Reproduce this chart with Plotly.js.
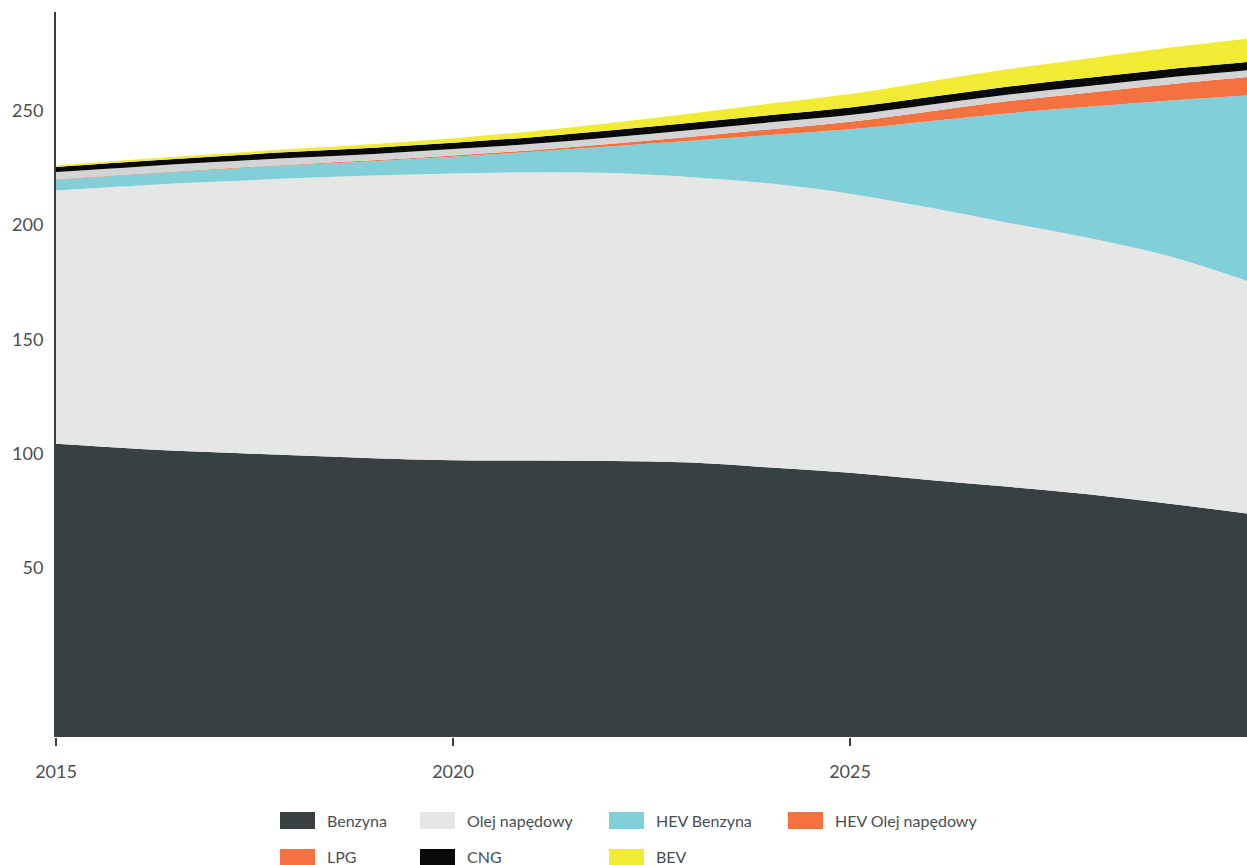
<!DOCTYPE html>
<html>
<head>
<meta charset="utf-8">
<script src="https://cdn.plot.ly/plotly-3.0.1.min.js"></script>
<style>
  html, body { margin: 0; padding: 0; background: #ffffff; }
  #chart { width: 1247px; height: 865px; }
</style>
</head>
<body>
<div id="chart"></div>
<script>
// ---- Data ----
const YEARS = [2015, 2016, 2017, 2018, 2019, 2020, 2021, 2022, 2023, 2024, 2025, 2026, 2027, 2028, 2029, 2030];
const BENZYNA      = [104.3, 102.2, 100.6, 99.3, 98.0, 97.1, 97.0, 96.8, 96.1, 93.9, 91.6, 88.5, 85.5, 82.2, 78.2, 73.8];
const OLEJ         = [110.9, 115.1, 118.4, 121.2, 123.7, 125.5, 126.1, 126.0, 124.9, 124.3, 122.2, 119.2, 115.5, 112.3, 108.4, 101.8];
const HEV_BENZYNA  = [4.7, 4.9, 5.3, 5.8, 6.3, 7.4, 9.0, 11.7, 16.0, 21.3, 28.2, 37.8, 48.0, 57.3, 67.9, 81.2];
const HEV_OLEJ     = [0.2, 0.2, 0.3, 0.3, 0.4, 0.5, 0.7, 1.1, 1.7, 2.5, 3.3, 4.3, 5.3, 6.2, 7.1, 8.0];
const LPG          = [3.2, 3.1, 3.0, 2.9, 2.8, 2.8, 2.8, 2.9, 3.0, 3.0, 2.9, 2.9, 2.9, 2.9, 3.0, 3.0];
const CNG          = [2.2, 2.4, 2.5, 2.6, 2.7, 2.8, 2.9, 3.0, 3.1, 3.2, 3.3, 3.4, 3.5, 3.6, 3.6, 3.6];
const BEV          = [0.6, 0.8, 1.0, 1.3, 1.6, 2.0, 2.6, 3.3, 4.1, 5.0, 5.9, 6.8, 7.6, 8.5, 9.4, 10.2];

const SERIES_NAMES = ['Benzyna', 'Olej napędowy', 'HEV Benzyna', 'HEV Olej napędowy', 'LPG', 'CNG', 'BEV'];
const SERIES_VALUES = [BENZYNA, OLEJ, HEV_BENZYNA, HEV_OLEJ, LPG, CNG, BEV];

const X_TICKS = [2015, 2020, 2025];
const Y_TICKS = [50, 100, 150, 200, 250];

// ---- Styles ----
const AREA_COLORS   = ['#384042', '#e5e7e6', '#80cfd9', '#f47240', '#d2d4d5', '#09090b', '#f2eb33'];
const LEGEND_COLORS = ['#384042', '#e5e7e6', '#80cfd9', '#f47240', '#f47240', '#09090b', '#f2eb33'];
const AXIS_COLOR = '#3a4042';
const TEXT_COLOR = '#4a4f51';
const FONT = 'Lato, "Open Sans", sans-serif';

const W = 1247, H = 865;
const M = { l: 56, r: 0, t: 12, b: 128 };
const PW = W - M.l - M.r, PH = H - M.t - M.b;
const X_RANGE = [2015, 2030];
const Y_RANGE = [-24, 293.3];

const traces = SERIES_NAMES.map((name, i) => ({
  type: 'scatter',
  x: YEARS,
  y: SERIES_VALUES[i],
  name: name,
  stackgroup: 'one',
  mode: 'lines',
  line: { width: 0, shape: 'spline', smoothing: 1, color: AREA_COLORS[i] },
  fillcolor: AREA_COLORS[i],
  showlegend: false,
  hoverinfo: 'skip'
}));

// legend built from the series names / colours
const LEG_COLS = [280, 420, 609, 788];
const LEG_ROWS = [820.5, 857.5];
const LEG_TEXT_ROWS = [820.5, 856];
const SW_W = 35, SW_H = 17, TXT_DX = 46;
const px2x = px => (px - M.l) / PW;
const px2y = py => (M.t + PH - py) / PH;

const shapes = [
  // the bottom series' fill continues down to the bottom of the plot
  { type: 'rect', xref: 'paper', yref: 'y', x0: 0, x1: 1, y0: Y_RANGE[0], y1: Math.min(...BENZYNA) / 2,
    fillcolor: AREA_COLORS[0], line: { width: 0 }, layer: 'below' }
];
const annotations = [];
SERIES_NAMES.forEach((name, i) => {
  const row = i < 4 ? 0 : 1;
  const col = i < 4 ? i : i - 4;
  const x0 = LEG_COLS[col], yc = LEG_ROWS[row];
  shapes.push({
    type: 'rect', xref: 'paper', yref: 'paper',
    x0: px2x(x0), x1: px2x(x0 + SW_W), y0: px2y(yc + SW_H / 2), y1: px2y(yc - SW_H / 2),
    fillcolor: LEGEND_COLORS[i], line: { width: 0 }
  });
  annotations.push({
    xref: 'paper', yref: 'paper', x: px2x(x0 + TXT_DX), y: px2y(LEG_TEXT_ROWS[row]),
    xanchor: 'left', yanchor: 'middle', showarrow: false, text: name, borderpad: 0,
    font: { family: FONT, size: 16, color: TEXT_COLOR }
  });
});

const layout = {
  width: W, height: H,
  margin: M,
  paper_bgcolor: '#ffffff', plot_bgcolor: '#ffffff',
  showlegend: false,
  font: { family: FONT, size: 18, color: TEXT_COLOR },
  xaxis: {
    range: X_RANGE, tickvals: X_TICKS, ticktext: X_TICKS.map(String),
    showgrid: false, zeroline: false, showline: false,
    ticks: 'outside', ticklen: 8, tickwidth: 2, tickcolor: AXIS_COLOR,
    ticklabelstandoff: 10,
    tickfont: { family: FONT, size: 18, color: TEXT_COLOR }
  },
  yaxis: {
    range: Y_RANGE, tickvals: Y_TICKS, ticktext: Y_TICKS.map(String),
    showgrid: false, zeroline: false,
    showline: true, linecolor: AXIS_COLOR, linewidth: 2,
    ticks: '', ticklabelstandoff: 7,
    tickfont: { family: FONT, size: 18, color: TEXT_COLOR }
  },
  shapes: shapes,
  annotations: annotations,
  hovermode: false
};

Plotly.newPlot('chart', traces, layout, { staticPlot: true, displayModeBar: false });
</script>
</body>
</html>
